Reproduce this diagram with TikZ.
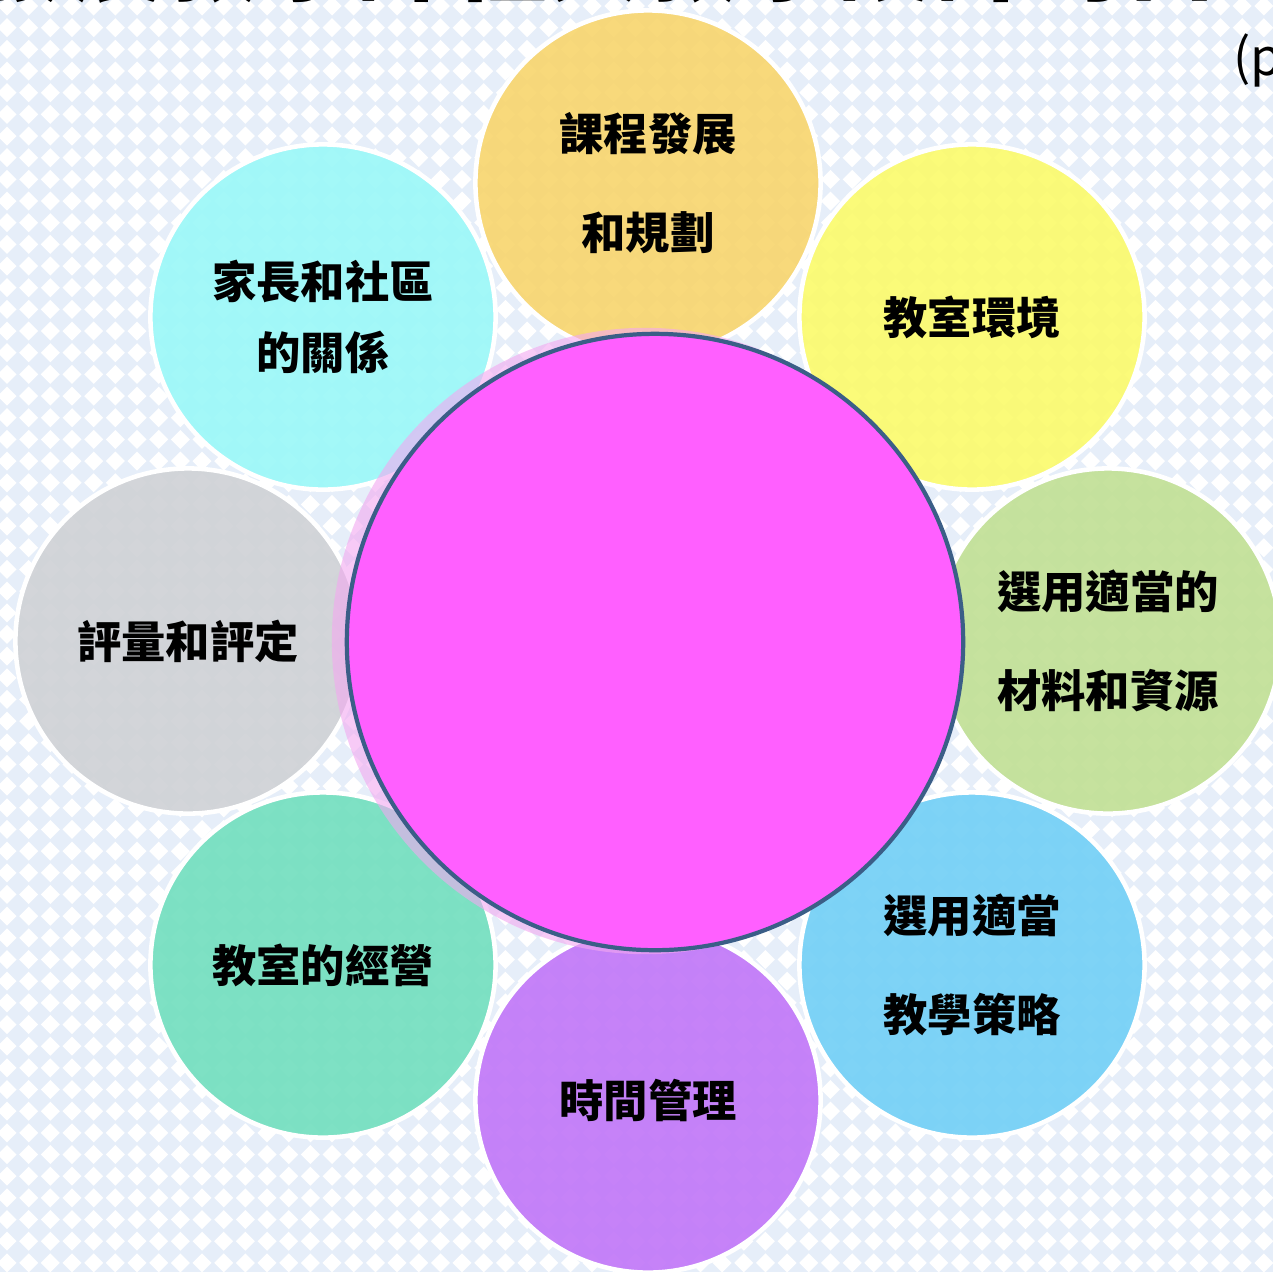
\documentclass[tikz,border=0pt]{standalone}
\usepackage{fontspec}
\setmainfont{Noto Sans CJK TC}
\definecolor{bgblue}{HTML}{E6EEF9}
\definecolor{petalgold}{HTML}{F8D670}
\definecolor{petalyellow}{HTML}{FBFB6E}
\definecolor{petalgreen}{HTML}{C2E096}
\definecolor{petalsky}{HTML}{74D0F6}
\definecolor{petalviolet}{HTML}{C278F8}
\definecolor{petalteal}{HTML}{74DFBF}
\definecolor{petalgray}{HTML}{D0D2D6}
\definecolor{petalcyan}{HTML}{9CF8F8}
\definecolor{rimpink}{HTML}{F3A8F0}
\definecolor{coremagenta}{HTML}{FF5FFF}
\definecolor{coreedge}{HTML}{3B5E87}
\tikzset{
    petal/.style={circle, inner sep=0pt, minimum size=3.45cm, draw=white, line width=1.3pt,
        fill opacity=0.92, text opacity=1, align=center,
        font=\bfseries\fontsize{12.6}{28}\selectfont}, % one of the eight outer circles
    tight/.style={font=\bfseries\fontsize{12.6}{20}\selectfont},
    diamondtile/.style={fill=white},
}

\begin{document}
\begin{tikzpicture}[x=0.01cm, y=-0.01cm]
    \useasboundingbox (0,0) rectangle (1273,1272);
    \clip (0,0) rectangle (1273,1272);

    % background
    \fill[bgblue] (0,0) rectangle (1273,1272);
    \foreach \row in {0,...,59}
        \fill[diamondtile] \foreach \col in {0,...,59} {
            (7+21.67*\col, 6+21.67*\row) +(-9.5,0) -- +(0,9.5) -- +(9.5,0) -- +(0,-9.5) -- cycle};

    \node[anchor=base west, inner sep=0pt, font=\bfseries\fontsize{27.3}{30}\selectfont] (title) at (-28,-7) {發展教學課程與教學設計的目的與目標};
    \node[anchor=base west, inner sep=0pt, font=\fontsize{14.5}{16}\selectfont] (page) at (1233,75) {(p};

    \node[petal, fill=petalgold] (plan) at (648,183) {課程發展\\和規劃};
    \node[petal, fill=petalyellow] (room) at (972,317) {教室環境};
    \node[petal, fill=petalgreen] (material) at (1108,641) {選用適當的\\材料和資源};
    \node[petal, fill=petalsky] (strategy) at (972,965) {選用適當\\教學策略};
    \node[petal, fill=petalviolet] (time) at (648,1100) {時間管理};
    \node[petal, fill=petalteal] (manage) at (323,965) {教室的經營};
    \node[petal, fill=petalgray] (assess) at (188,641) {評量和評定};
    \node[petal, tight, fill=petalcyan] (parents) at (323,317) {家長和社區\\的關係};

    \node[circle, inner sep=0pt, minimum size=6.26cm, fill=rimpink, fill opacity=0.6] (rim) at (645,641) {};
    \node[circle, inner sep=0pt, minimum size=6.16cm, fill=coremagenta, draw=coreedge, line width=1.2pt] (core) at (655,642) {};
\end{tikzpicture}
\end{document}
